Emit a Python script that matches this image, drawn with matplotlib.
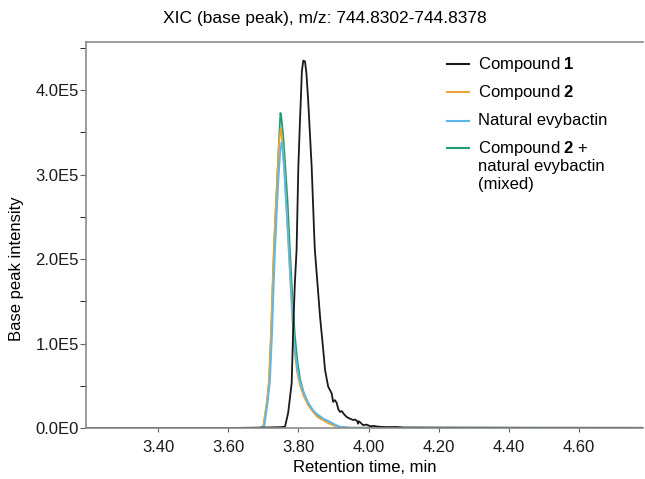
import matplotlib
matplotlib.use("Agg")
import matplotlib.pyplot as plt
from matplotlib.ticker import FuncFormatter, MultipleLocator

plt.rcParams['font.family'] = ['Liberation Sans', 'DejaVu Sans']
plt.rcParams['mathtext.fontset'] = 'custom'
plt.rcParams['mathtext.rm'] = 'Liberation Sans'
plt.rcParams['mathtext.bf'] = 'Liberation Sans:bold'

# retention time (min) / base peak intensity (x1e5)
time_c1 = [3.195, 3.60, 3.70, 3.750, 3.762, 3.771, 3.781, 3.785, 3.790, 3.795,
           3.800, 3.805, 3.807, 3.810, 3.814, 3.819, 3.823, 3.828, 3.838, 3.845,
           3.847, 3.862, 3.871, 3.876, 3.880, 3.885, 3.890, 3.895, 3.899, 3.904,
           3.909, 3.914, 3.919, 3.924, 3.928, 3.933, 3.938, 3.947, 3.956, 3.962,
           3.968, 3.970, 3.972, 3.978, 3.984, 3.995, 4.005, 4.013, 4.030, 4.052,
           4.080, 4.100, 4.200, 4.400, 4.780]
int_c1 = [0.0, 0.0, 0.005, 0.01, 0.015, 0.18, 0.53, 1.12, 1.71, 2.11,
          3.09, 3.68, 3.88, 4.22, 4.35, 4.34, 4.20, 3.88, 3.09, 2.31,
          2.11, 1.31, 0.92, 0.69, 0.60, 0.49, 0.45, 0.41, 0.31, 0.33,
          0.30, 0.22, 0.19, 0.20, 0.175, 0.15, 0.13, 0.11, 0.095, 0.10,
          0.08, 0.05, 0.08, 0.06, 0.035, 0.04, 0.02, 0.025, 0.015, 0.01,
          0.012, 0.005, 0.004, 0.003, 0.002]

time_c2 = [3.195, 3.60, 3.690, 3.700, 3.710, 3.716, 3.722, 3.726, 3.730, 3.735,
           3.740, 3.745, 3.748, 3.750, 3.752, 3.755, 3.760, 3.766, 3.772, 3.779,
           3.785, 3.790, 3.797, 3.805, 3.815, 3.828, 3.842, 3.852, 3.862, 3.872,
           3.884, 3.900, 3.915, 3.927, 4.000, 4.200, 4.780]
int_c2 = [0.0, 0.0, 0.0, 0.015, 0.30, 0.53, 1.12, 1.62, 2.10, 2.55,
          2.95, 3.38, 3.50, 3.55, 3.48, 3.35, 3.05, 2.60, 2.15, 1.60,
          1.15, 0.88, 0.65, 0.50, 0.38, 0.27, 0.19, 0.14, 0.11, 0.09,
          0.06, 0.03, 0.015, 0.005, 0.003, 0.002, 0.0]

time_nat = [3.195, 3.60, 3.690, 3.703, 3.712, 3.719, 3.725, 3.729, 3.733, 3.738,
            3.743, 3.748, 3.752, 3.755, 3.760, 3.766, 3.772, 3.779, 3.785, 3.790,
            3.797, 3.805, 3.815, 3.828, 3.842, 3.852, 3.862, 3.872, 3.890, 3.905,
            3.918, 3.935, 3.947, 4.000, 4.300, 4.780]
int_nat = [0.0, 0.0, 0.0, 0.02, 0.28, 0.55, 1.10, 1.60, 2.05, 2.50,
           2.92, 3.25, 3.38, 3.32, 3.05, 2.62, 2.18, 1.65, 1.20, 0.93,
           0.70, 0.55, 0.42, 0.30, 0.21, 0.17, 0.14, 0.11, 0.075, 0.04,
           0.015, 0.01, 0.0, 0.004, 0.003, 0.002]

time_mix = [3.195, 3.60, 3.690, 3.701, 3.711, 3.717, 3.723, 3.727, 3.731, 3.736,
            3.741, 3.746, 3.749, 3.751, 3.753, 3.757, 3.762, 3.769, 3.776, 3.783,
            3.790, 3.797, 3.805, 3.815, 3.828, 3.842, 3.862, 3.884, 3.900, 3.920,
            3.940, 4.200, 4.780]
int_mix = [0.0, 0.0, 0.0, 0.02, 0.32, 0.56, 1.15, 1.68, 2.15, 2.62,
           3.05, 3.50, 3.73, 3.70, 3.62, 3.45, 3.15, 2.70, 2.11, 1.55,
           1.10, 0.80, 0.58, 0.42, 0.29, 0.20, 0.12, 0.065, 0.035, 0.01,
           0.003, 0.002, 0.0]

x_ticks = [3.40, 3.60, 3.80, 4.00, 4.20, 4.40, 4.60]

c_black = '#1a1a1a'
c_orange = '#EBA43A'
c_blue = '#5CB8E8'
c_green = '#1F9E70'

fig = plt.figure(figsize=(6.45, 4.79), dpi=100)
ax = fig.add_axes([86 / 645, 51 / 479, 557 / 645, 386 / 479])

scale = 1e5
ax.plot(time_mix, [v * scale for v in int_mix], color=c_green, lw=1.3)
ax.plot(time_c2, [v * scale for v in int_c2], color=c_orange, lw=1.3)
ax.plot(time_nat, [v * scale for v in int_nat], color=c_blue, lw=1.3)
ax.plot(time_c1, [v * scale for v in int_c1], color=c_black, lw=1.3)

ax.set_xlim(3.195, 4.782)
ax.set_ylim(0, 4.57e5)
ax.set_xticks(x_ticks)
ax.set_xticklabels([f"{t:.2f}" for t in x_ticks])
ax.yaxis.set_major_locator(MultipleLocator(1e5))
ax.yaxis.set_minor_locator(MultipleLocator(0.5e5))


def sci(v, pos):
    if v == 0:
        return "0.0E0"
    return f"{v / 1e5:.1f}E5"


ax.yaxis.set_major_formatter(FuncFormatter(sci))
ax.tick_params(axis='both', labelsize=12, colors='#606060', labelcolor='#1a1a1a')
ax.tick_params(axis='y', which='both', length=4, pad=1)
ax.tick_params(axis='x', length=3, pad=6)

for side in ['left', 'top', 'bottom']:
    ax.spines[side].set_color('#8a8a8a')
    ax.spines[side].set_linewidth(1.2)
ax.spines['right'].set_visible(False)

ax.set_xlabel("Retention time, min", fontsize=12, labelpad=3)
fig.text(17 / 645, 1 - 269 / 479, "Base peak intensity", rotation=90,
         fontsize=12, ha='center', va='center')
fig.text(325 / 645, 1 - 18 / 479, "XIC (base peak), m/z: 744.8302-744.8378",
         fontsize=12.5, ha='center', va='center')

# legend
legend_items = [
    (c_black, ["Compound $\\mathbf{1}$"]),
    (c_orange, ["Compound $\\mathbf{2}$"]),
    (c_blue, ["Natural evybactin"]),
    (c_green, ["Compound $\\mathbf{2}$ +", "natural evybactin", "(mixed)"]),
]
row_y = [64, 92, 121, 148]
for (col, lines), yy in zip(legend_items, row_y):
    ya = (428 - yy) / 386
    ax.plot([(447 - 86) / 557, (469 - 86) / 557], [ya, ya], color=col,
            lw=1.5, transform=ax.transAxes, clip_on=False)
    for i, txt in enumerate(lines):
        ax.text((478 - 86) / 557, (428 - yy - 18 * i) / 386, txt,
                transform=ax.transAxes, fontsize=12, va='center', ha='left')

fig.savefig("out.png", dpi=100)
